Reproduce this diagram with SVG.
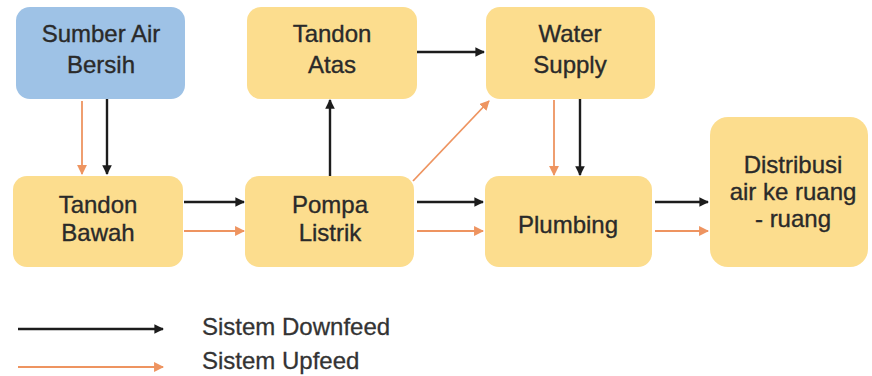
<svg xmlns="http://www.w3.org/2000/svg" width="872" height="376" viewBox="0 0 872 376">
  <style>
    .box { fill: #FCDD8E; }
    .src { fill: #9EC2E6; }
    .lbl { font-family: "Liberation Sans", Arial, sans-serif; font-size: 24px; fill: #2a2a2a; stroke: #2a2a2a; stroke-width: 0.35; text-anchor: middle; }
    .leg { font-family: "Liberation Sans", Arial, sans-serif; font-size: 24px; fill: #333333; stroke: #333333; stroke-width: 0.3; }
    .down { stroke: #1c1c1c; stroke-width: 2.4; fill: none; marker-end: url(#headDown); }
    .up { stroke: #EE9460; stroke-width: 1.8; fill: none; marker-end: url(#headUp); }
  </style>
  <defs>
    <marker id="headDown" viewBox="0 0 10 10" refX="9" refY="5" markerWidth="4" markerHeight="4" orient="auto" markerUnits="strokeWidth">
      <path d="M0,0 L10,5 L0,10 z" fill="#1c1c1c"/>
    </marker>
    <marker id="headUp" viewBox="0 0 10 10" refX="9" refY="5" markerWidth="5.5" markerHeight="5.5" orient="auto" markerUnits="strokeWidth">
      <path d="M0,0 L10,5 L0,10 z" fill="#EE9460"/>
    </marker>
  </defs>
  <rect width="872" height="376" fill="#ffffff"/>

  <g id="sumber-air-bersih">
    <rect class="src" x="16" y="7" width="169" height="92" rx="14"/>
    <text class="lbl" x="101" y="42">Sumber Air</text>
    <text class="lbl" x="101" y="73">Bersih</text>
  </g>
  <g id="tandon-atas">
    <rect class="box" x="247" y="7" width="170" height="92" rx="14"/>
    <text class="lbl" x="332" y="42">Tandon</text>
    <text class="lbl" x="332" y="73">Atas</text>
  </g>
  <g id="water-supply">
    <rect class="box" x="486" y="7" width="169" height="92" rx="14"/>
    <text class="lbl" x="570" y="42">Water</text>
    <text class="lbl" x="570" y="73">Supply</text>
  </g>
  <g id="tandon-bawah">
    <rect class="box" x="13" y="176" width="170" height="91" rx="14"/>
    <text class="lbl" x="98" y="213">Tandon</text>
    <text class="lbl" x="98" y="241">Bawah</text>
  </g>
  <g id="pompa-listrik">
    <rect class="box" x="245" y="176" width="169" height="91" rx="14"/>
    <text class="lbl" x="330" y="213">Pompa</text>
    <text class="lbl" x="330" y="241">Listrik</text>
  </g>
  <g id="plumbing">
    <rect class="box" x="485" y="176" width="167" height="91" rx="14"/>
    <text class="lbl" x="568" y="233">Plumbing</text>
  </g>
  <g id="distribusi">
    <rect class="box" x="710" y="117" width="158" height="150" rx="18"/>
    <text class="lbl" x="793" y="173">Distribusi</text>
    <text class="lbl" x="793" y="200">air ke ruang</text>
    <text class="lbl" x="793" y="227">- ruang</text>
  </g>

  <g id="connectors">
    <!-- Sumber Air Bersih to Tandon Bawah -->
    <line class="up" x1="82" y1="101" x2="82" y2="174"/>
    <line class="down" x1="107" y1="99" x2="107" y2="174"/>
    <!-- Tandon Bawah to Pompa Listrik -->
    <line class="down" x1="184" y1="202" x2="244" y2="202"/>
    <line class="up" x1="184" y1="231" x2="244" y2="231"/>
    <!-- Pompa Listrik up to Tandon Atas -->
    <line class="down" x1="330" y1="176" x2="330" y2="100"/>
    <!-- Tandon Atas to Water Supply -->
    <line class="down" x1="417" y1="52" x2="484" y2="52"/>
    <!-- Pompa Listrik to Water Supply (upfeed) -->
    <line class="up" x1="413" y1="181" x2="489" y2="101"/>
    <!-- Pompa Listrik to Plumbing -->
    <line class="down" x1="417" y1="202" x2="483" y2="202"/>
    <line class="up" x1="417" y1="231" x2="483" y2="231"/>
    <!-- Water Supply to Plumbing -->
    <line class="up" x1="554" y1="100" x2="554" y2="175"/>
    <line class="down" x1="580" y1="99" x2="580" y2="175"/>
    <!-- Plumbing to Distribusi -->
    <line class="down" x1="655" y1="202" x2="708" y2="202"/>
    <line class="up" x1="655" y1="231" x2="708" y2="231"/>
  </g>

  <g id="legend">
    <line class="down" x1="18" y1="329" x2="163" y2="329"/>
    <text class="leg" x="202" y="335">Sistem Downfeed</text>
    <line class="up" x1="18" y1="367" x2="163" y2="367"/>
    <text class="leg" x="202" y="369">Sistem Upfeed</text>
  </g>
</svg>
